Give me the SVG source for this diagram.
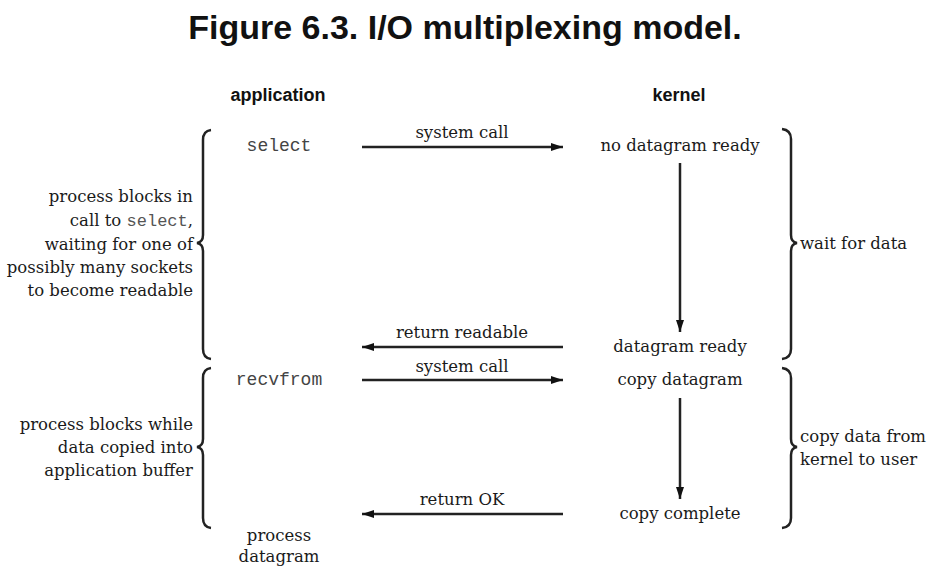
<svg xmlns="http://www.w3.org/2000/svg" width="936" height="582" viewBox="0 0 936 582">
<defs>
<marker id="ah" viewBox="0 0 12 8" refX="12" refY="4" markerWidth="12" markerHeight="8" markerUnits="userSpaceOnUse" orient="auto">
<path d="M0,0 L12,4 L0,8 Z" fill="#111"/>
</marker>
<style>
.t{font-family:"DejaVu Serif","Liberation Serif",serif;font-size:16.5px;fill:#1a1a1a}
.m{font-family:"Liberation Mono","DejaVu Sans Mono",monospace;font-size:18px;fill:#444}
.h{font-family:"Liberation Sans","DejaVu Sans",sans-serif;font-weight:bold;fill:#111}
.c{stroke:#222;stroke-width:2.5;fill:none}
.b{stroke:#222;stroke-width:2.5;fill:none}
</style>
</defs>
<rect width="936" height="582" fill="#fff"/>
<text class="h" x="465" y="39" font-size="34" text-anchor="middle">Figure 6.3. I/O multiplexing model.</text>
<text class="h" x="278" y="101" font-size="18" text-anchor="middle">application</text>
<text class="h" x="679" y="101" font-size="18" text-anchor="middle">kernel</text>

<g id="app-select"><text class="m" x="279" y="151" text-anchor="middle">select</text></g>
<g id="app-recvfrom"><text class="m" x="279" y="385" text-anchor="middle">recvfrom</text></g>
<g id="app-process"><text class="t" x="279" y="541" text-anchor="middle">process</text><text class="t" x="279" y="562" text-anchor="middle">datagram</text></g>

<g id="k-nodata"><text class="t" x="680" y="151" text-anchor="middle">no datagram ready</text></g>
<g id="k-ready"><text class="t" x="680" y="352" text-anchor="middle">datagram ready</text></g>
<g id="k-copy"><text class="t" x="680" y="385" text-anchor="middle">copy datagram</text></g>
<g id="k-complete"><text class="t" x="680" y="519" text-anchor="middle">copy complete</text></g>

<g id="left-brace-1">
<path class="b" d="M211,130 Q203,131 203,140 L203,235 Q203,242 197,243 Q203,244 203,251 L203,349 Q203,358 211,359"/>
<text class="t" text-anchor="end"><tspan x="193" y="202">process blocks in</tspan><tspan x="193" y="226">call to <tspan class="m" style="font-size:17px;fill:#555">select</tspan>,</tspan><tspan x="193" y="250">waiting for one of</tspan><tspan x="193" y="273">possibly many sockets</tspan><tspan x="193" y="296">to become readable</tspan></text>
</g>
<g id="left-brace-2">
<path class="b" d="M211,368 Q203,369 203,378 L203,439 Q203,446 197,447 Q203,448 203,455 L203,518 Q203,527 211,528"/>
<text class="t" text-anchor="end"><tspan x="193" y="430">process blocks while</tspan><tspan x="193" y="453">data copied into</tspan><tspan x="193" y="476">application buffer</tspan></text>
</g>
<g id="right-brace-1">
<path class="b" d="M782,129 Q791,130 791,139 L791,235 Q791,242 797,243 Q791,244 791,251 L791,349 Q791,358 782,359"/>
<text class="t" x="800" y="249">wait for data</text>
</g>
<g id="right-brace-2">
<path class="b" d="M782,368 Q791,369 791,378 L791,439 Q791,446 797,447 Q791,448 791,455 L791,518 Q791,527 782,528"/>
<text class="t"><tspan x="800" y="442">copy data from</tspan><tspan x="800" y="465">kernel to user</tspan></text>
</g>

<g id="connectors">
<line class="c" x1="362" y1="147" x2="563" y2="147" marker-end="url(#ah)"/>
<text class="t" x="462" y="138" text-anchor="middle">system call</text>
<line class="c" x1="563" y1="347" x2="362" y2="347" marker-end="url(#ah)"/>
<text class="t" x="462" y="338" text-anchor="middle">return readable</text>
<line class="c" x1="362" y1="380" x2="563" y2="380" marker-end="url(#ah)"/>
<text class="t" x="462" y="372" text-anchor="middle">system call</text>
<line class="c" x1="563" y1="514" x2="362" y2="514" marker-end="url(#ah)"/>
<text class="t" x="462" y="505" text-anchor="middle">return OK</text>
<line class="c" x1="680" y1="163" x2="680" y2="332" marker-end="url(#ah)"/>
<line class="c" x1="680" y1="398" x2="680" y2="499" marker-end="url(#ah)"/>
</g>
</svg>
